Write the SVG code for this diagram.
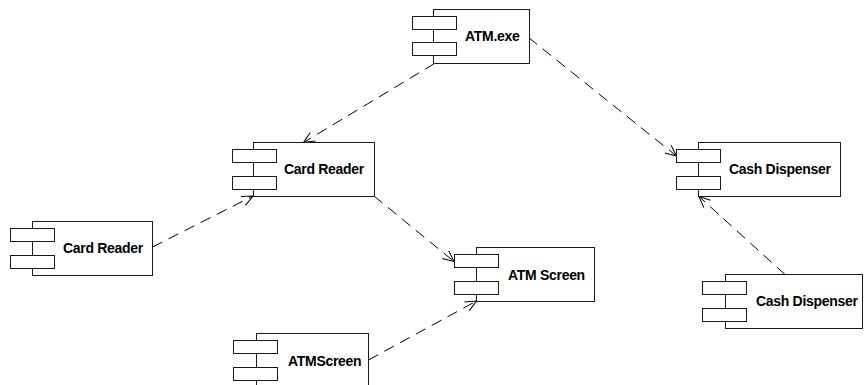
<svg xmlns="http://www.w3.org/2000/svg" width="867" height="385" viewBox="0 0 867 385">
  <style>
    .body { fill: #ffffff; stroke: #1a1a1a; stroke-width: 1; }
    .tab { fill: #ffffff; stroke: #1a1a1a; stroke-width: 1; }
    .label { font-family: "Liberation Sans", Arial, sans-serif; font-size: 14px; font-weight: bold; fill: #000000; letter-spacing: -0.3px; }
    .dep { fill: none; stroke: #000000; stroke-width: 1; stroke-dasharray: 11 7; marker-end: url(#open); }
  </style>
  <defs>
    <marker id="open" viewBox="-12 -6 13 12" refX="0" refY="0" markerWidth="13" markerHeight="12" markerUnits="userSpaceOnUse" orient="auto">
      <path d="M-11,-5 L0,0 L-11,5" fill="none" stroke="#000000" stroke-width="1" stroke-dasharray="none"/>
    </marker>
  </defs>
  <rect width="867" height="385" fill="#ffffff"/>

  <g id="connectors">
    <line class="dep" x1="434.5" y1="63.5" x2="303.5" y2="142.5"/>
    <line class="dep" x1="528.5" y1="37.5" x2="676.5" y2="156"/>
    <line class="dep" x1="152.5" y1="247" x2="253" y2="196"/>
    <line class="dep" x1="374" y1="196" x2="454" y2="261.5"/>
    <line class="dep" x1="368.5" y1="360" x2="476.5" y2="301"/>
    <line class="dep" x1="785" y1="274.5" x2="699" y2="196.5"/>
  </g>

  <g id="atm-exe">
    <rect class="body" x="433.5" y="9.5" width="96" height="54"/>
    <rect class="tab" x="412.5" y="16.5" width="44" height="13"/>
    <rect class="tab" x="412.5" y="42.5" width="44" height="13"/>
    <text class="label" x="465" y="41">ATM.exe</text>
  </g>

  <g id="card-reader-lib">
    <rect class="body" x="253.5" y="142.5" width="121" height="54"/>
    <rect class="tab" x="232.5" y="149.5" width="44" height="13"/>
    <rect class="tab" x="232.5" y="176.5" width="44" height="13"/>
    <text class="label" x="284" y="174">Card Reader</text>
  </g>

  <g id="card-reader-src">
    <rect class="body" x="32.5" y="221.5" width="120" height="54"/>
    <rect class="tab" x="10.5" y="228.5" width="44" height="13"/>
    <rect class="tab" x="10.5" y="255.5" width="44" height="13"/>
    <text class="label" x="63" y="253">Card Reader</text>
  </g>

  <g id="atm-screen-lib">
    <rect class="body" x="476.5" y="247.5" width="118" height="54"/>
    <rect class="tab" x="454.5" y="254.5" width="44" height="13"/>
    <rect class="tab" x="454.5" y="281.5" width="44" height="13"/>
    <text class="label" x="508" y="280">ATM Screen</text>
  </g>

  <g id="atm-screen-src">
    <rect class="body" x="256.5" y="333.5" width="112" height="54"/>
    <rect class="tab" x="233.5" y="340.5" width="44" height="13"/>
    <rect class="tab" x="233.5" y="367.5" width="44" height="13"/>
    <text class="label" x="288" y="366">ATMScreen</text>
  </g>

  <g id="cash-dispenser-lib">
    <rect class="body" x="698.5" y="142.5" width="142" height="54"/>
    <rect class="tab" x="676.5" y="149.5" width="44" height="13"/>
    <rect class="tab" x="676.5" y="176.5" width="44" height="13"/>
    <text class="label" x="729" y="174">Cash Dispenser</text>
  </g>

  <g id="cash-dispenser-src">
    <rect class="body" x="725.5" y="274.5" width="137" height="54"/>
    <rect class="tab" x="702.5" y="281.5" width="44" height="13"/>
    <rect class="tab" x="702.5" y="308.5" width="44" height="13"/>
    <text class="label" x="756" y="306">Cash Dispenser</text>
  </g>
</svg>
